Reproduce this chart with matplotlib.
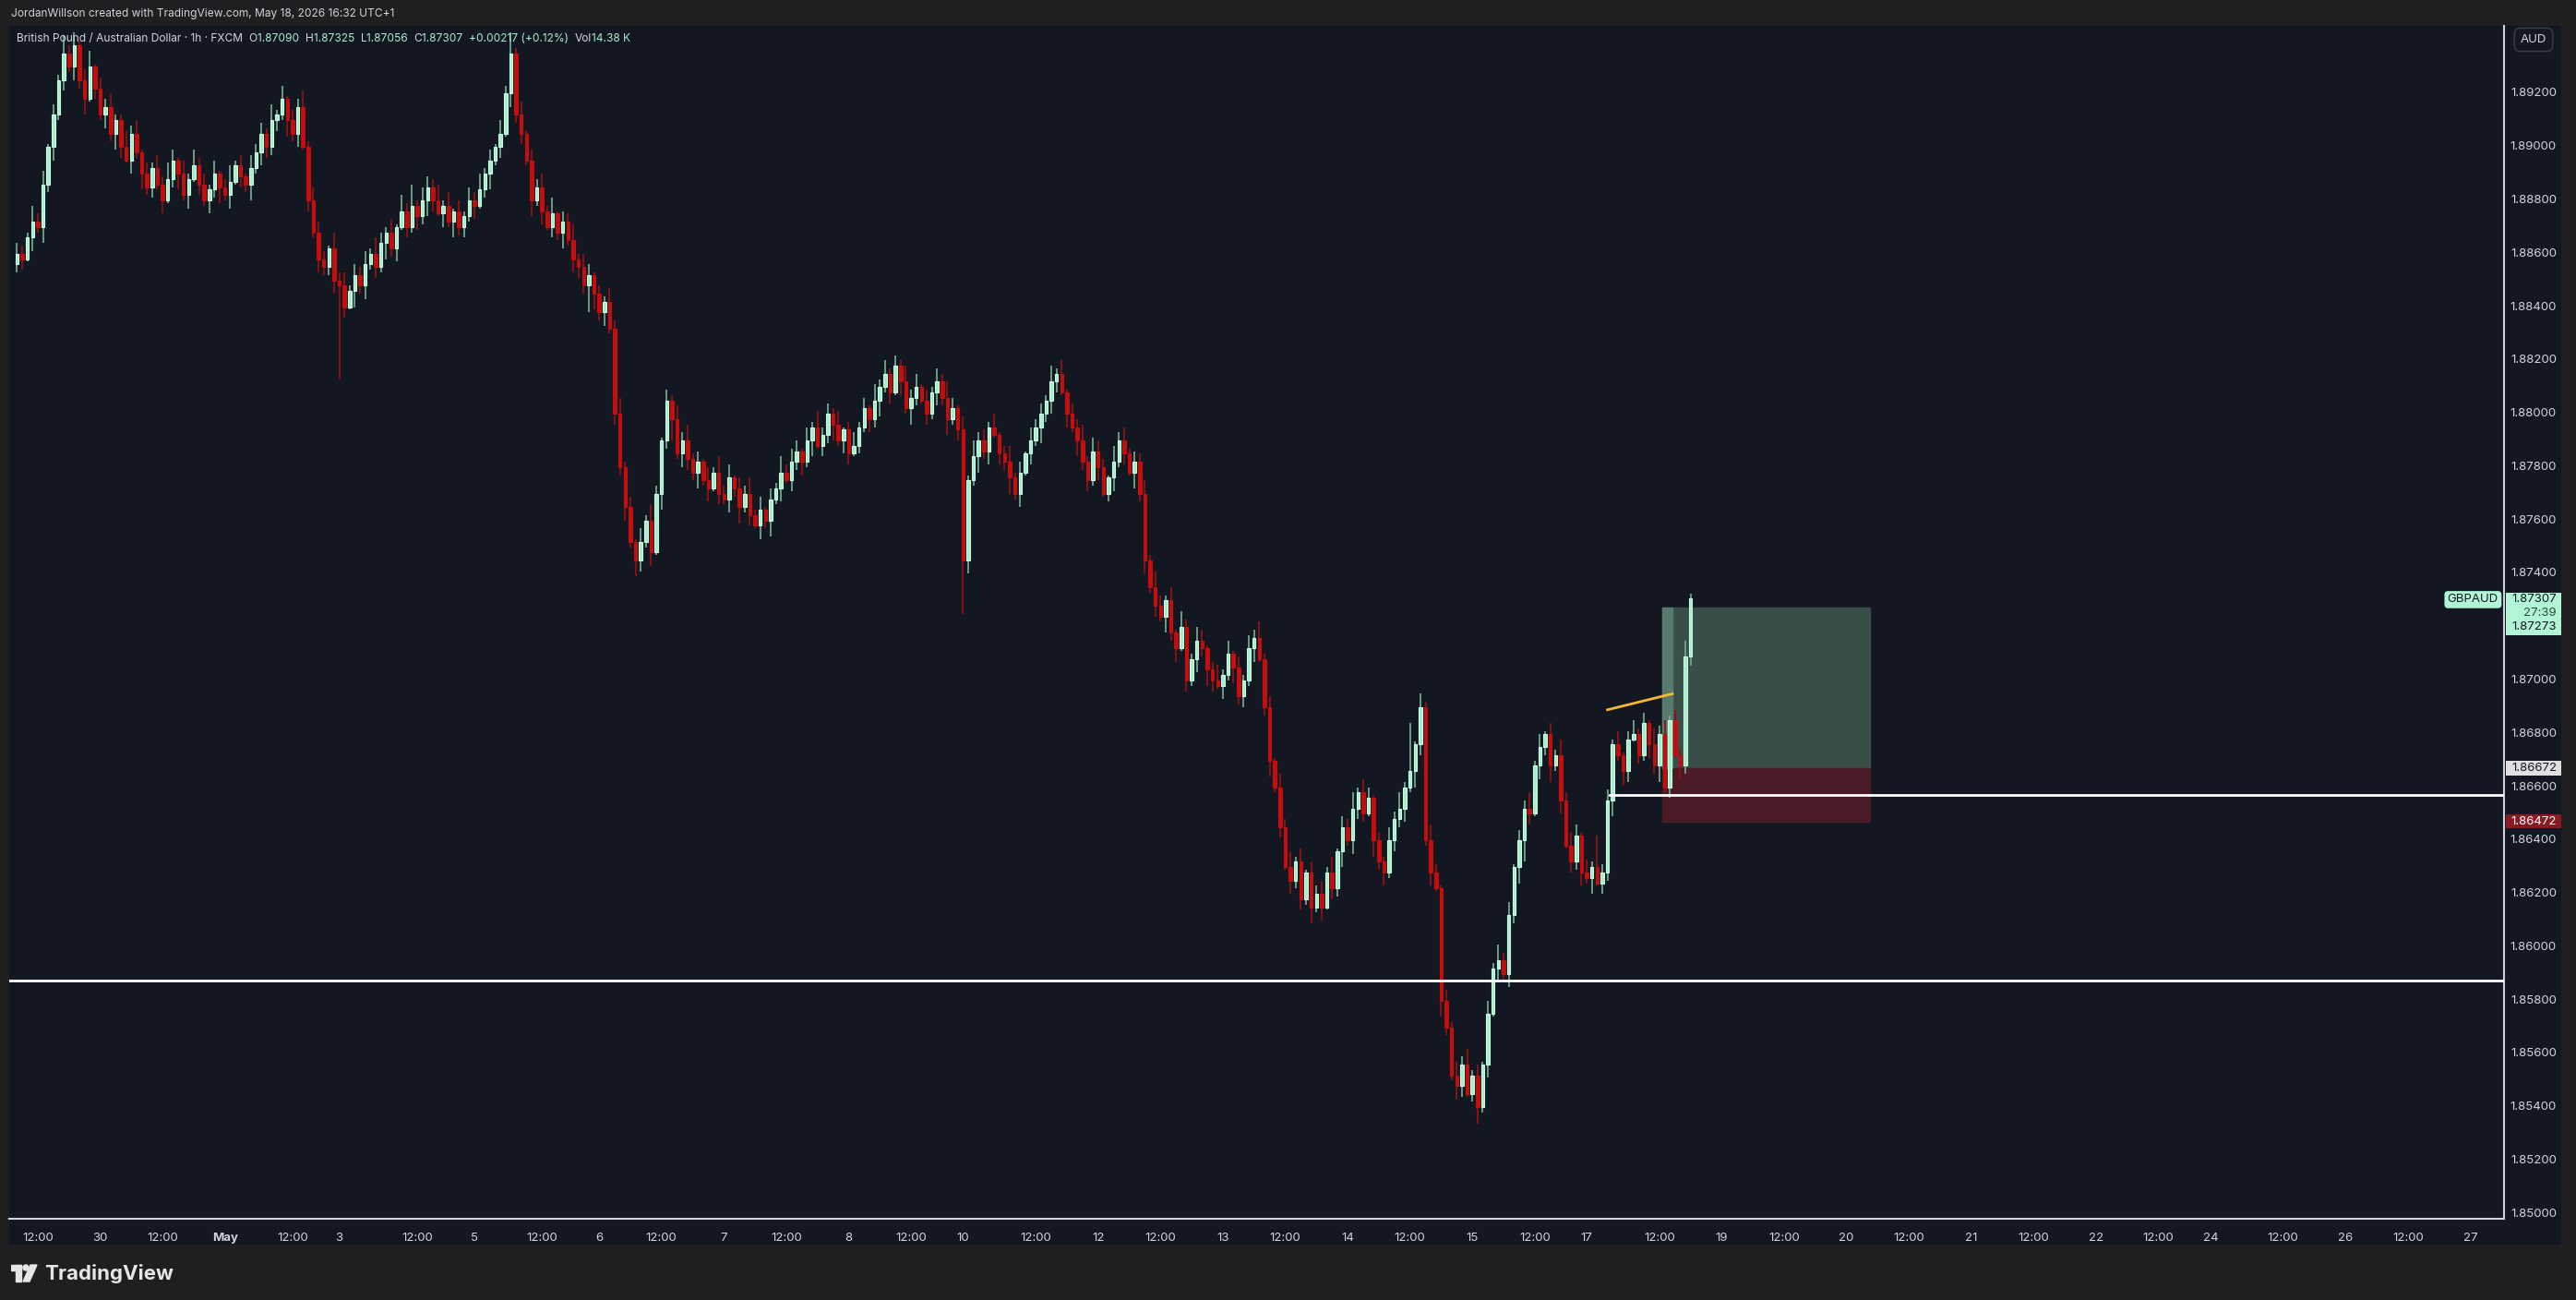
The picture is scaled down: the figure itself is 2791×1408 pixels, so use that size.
import numpy as np
import matplotlib.pyplot as plt
import matplotlib.transforms as mtransforms
from matplotlib.patches import Rectangle, Circle, Polygon

plt.rcParams['font.family'] = ['Inter', 'DejaVu Sans']

# closes in pips above 1.8000 (one per hourly bar)
closes = [860, 858, 866, 872, 870, 886, 900, 912, 925, 935,
          930, 938, 925, 918, 930, 922, 912, 915, 905, 910, 900, 895, 905, 898, 890, 885,
          892, 886, 880, 888, 895, 890, 882, 888, 893, 886, 880, 884, 890, 885, 882, 887, 893, 889, 886,
          892, 898, 905, 900, 910, 912, 918, 910, 905, 915,
          900, 880, 868, 858, 855, 862, 850, 848,
          840, 846, 852, 848, 856, 860, 855, 864, 868, 862, 870, 876, 870, 878, 874, 880,
          885, 880, 875, 878, 872, 876, 870, 874, 880, 878, 884, 890, 895,
          900, 905, 920, 935, 912,
          905, 895, 880, 885, 876, 870, 875, 868, 872, 865, 858,
          855, 848, 852, 845, 838, 842, 832,
          800, 780, 765, 752, 745,
          752, 760, 748, 770, 790, 805, 798, 785,
          790, 783, 778, 782, 775, 772, 778, 770, 768, 776, 772, 765, 770, 762, 758, 764, 760, 768, 772,
          778, 775, 782, 786, 782, 790, 795, 788, 792, 800, 796, 790, 794, 785, 788, 795, 802, 798, 805,
          810, 815, 808, 818, 812, 802, 806, 810, 805, 800, 808, 812, 806, 798, 802, 794, 745,
          775, 784, 790, 786, 795, 792, 785, 782, 776, 770, 778, 785, 790, 795, 800, 805, 812,
          815, 808, 800, 795, 790, 782, 775, 786, 780, 770, 776, 782, 790, 785, 778, 782,
          770, 745, 735, 728, 724, 730, 718, 712, 720, 700, 708, 715, 712,
          704, 700, 698, 702, 710, 705, 694, 700, 712, 716, 708,
          690, 670, 660, 645, 630, 625, 632, 618, 628, 615, 620,
          615, 628, 622, 636, 645, 640, 652, 658, 650, 656, 640, 632, 628, 640, 648, 652, 660, 666, 676,
          690, 640, 628, 622, 580, 570,
          552, 548, 556, 545, 552, 540, 556,
          575, 592, 595, 590, 612, 630, 640, 652, 650, 668,
          675, 680, 668, 672, 655, 638, 632, 642, 628, 626, 630, 624, 628,
          655, 676, 672, 666, 678, 680, 672, 684, 676, 668, 680, 660, 685, 672, 668,
          709.0, 730.7]

upper_wicks = ("4326351427" "3524614352" "2635142536" "4152634251" "3624153426"
               "2514362543" "1635243526" "4251638254" "3625142536" "2415362514"
               "3526143625" "4132536241" "5263142536" "2415263514" "3625142635"
               "4152634251" "3524163524" "2635142536" "4152634251" "3624153426"
               "2514362543" "1635243526" "4251632541" "3625142536" "2415362514"
               "3526143625" "4132536241" "5263142536" "2415263514" "3625142635"
               "4152634251" "3524163524" "262")
lower_wicks = ("3415263524" "2536142536" "4152634251" "3625142536" "2514362543"
               "4263514253" "3524163524" "2635142536" "4152634251" "3624153426"
               "2514362543" "1635243526" "4251638254" "3625142536" "2415362514"
               "3526143625" "4132536241" "5263142536" "2415263514" "3625142635"
               "4152634251" "3524163524" "2635142536" "4152634251" "3624153426"
               "2514362543" "1635243526" "4251632541" "3625142536" "2415362514"
               "3526143625" "4132536241" "534")
extra_low = {62: 35, 182: 20, 110: 10, 290: 8}
extra_high = {95: 8, 268: 18, 304: 12}

tick_pos = [4, 16, 28, 40, 53, 62, 77, 88, 101, 112, 124, 136, 148, 160, 172, 182,
            196, 208, 220, 232, 244, 256, 268, 280, 292, 302, 316, 328, 340, 352,
            364, 376, 388, 400, 412, 422, 436, 448, 460, 472]
tick_labels = ["12:00", "30", "12:00", "May", "12:00", "3", "12:00", "5", "12:00", "6",
               "12:00", "7", "12:00", "8", "12:00", "10", "12:00", "12", "12:00", "13",
               "12:00", "14", "12:00", "15", "12:00", "17", "12:00", "19", "12:00", "20",
               "12:00", "21", "12:00", "22", "12:00", "24", "12:00", "26", "12:00", "27"]
price_ticks = [1.850, 1.852, 1.854, 1.856, 1.858, 1.860, 1.862, 1.864, 1.866, 1.868,
               1.870, 1.872, 1.874, 1.876, 1.878, 1.880, 1.882, 1.884, 1.886, 1.888,
               1.890, 1.892]

support_price = 1.85875
range_low = 1.86570
entry, target, stop = 1.86672, 1.87273, 1.86472
last_price = 1.87307

BG = '#131722'
OUTER = '#1f1f1f'
BULL = '#a8edcb'
BULL_EDGE = '#c9fbe2'
BULL_WICK = '#6fa58c'
BEAR = '#c40d0d'
BEAR_WICK = '#8e1212'
TXT = '#d1d4dc'

c = np.array(closes) / 10000 + 1.8
n = len(c)
o = np.concatenate([[c[0] - 0.0004], c[:-1]])
up = np.array([int(upper_wicks[i]) if i < len(upper_wicks) else 2 for i in range(n)], float)
lo = np.array([int(lower_wicks[i]) if i < len(lower_wicks) else 2 for i in range(n)], float)
for k, v in extra_low.items():
    lo[k] = v
for k, v in extra_high.items():
    up[k] = v
up[-1], lo[-1] = 1.8, 3.4
h = np.maximum(o, c) + up / 10000
l = np.minimum(o, c) - lo / 10000
x = np.arange(n)
bull = c >= o

W, H = 2791, 1408
fig = plt.figure(figsize=(W / 100, H / 100), dpi=100, facecolor=OUTER)
# chart panel background
bgax = fig.add_axes([10 / W, 1 - 1348 / H, 2765 / W, 1320 / H], zorder=0)
bgax.set_facecolor(BG)
bgax.set_xticks([]); bgax.set_yticks([])
for s in bgax.spines.values():
    s.set_visible(False)

AX_W = 2703
ax = fig.add_axes([10 / W, 1 - 1320 / H, AX_W / W, 1292 / H], zorder=1)
ax.patch.set_alpha(0)

ax.vlines(x[bull], l[bull], h[bull], color=BULL_WICK, lw=1.3, zorder=2)
ax.vlines(x[~bull], l[~bull], h[~bull], color=BEAR_WICK, lw=1.3, zorder=2)
ax.bar(x[bull], c[bull] - o[bull], bottom=o[bull], width=0.62, color=BULL,
       edgecolor=BULL_EDGE, lw=0.8, zorder=3)
ax.bar(x[~bull], c[~bull] - o[~bull], bottom=o[~bull], width=0.62, color=BEAR,
       edgecolor=BEAR, lw=0.8, zorder=3)

ax.set_xlim(-1.5, 478.5)
ax.set_ylim(1.84982, 1.89454)

# drawings
ax.axhline(support_price, color='white', lw=2, zorder=4)
ax.plot([306.5, 478.5], [range_low, range_low], color='white', lw=2, zorder=4)
ax.plot([306, 318.5], [1.86890, 1.86950], color='#f5b82e', lw=2, zorder=5)
ax.add_patch(Rectangle((316.5, entry), 40, target - entry, color='#394d49', zorder=1))
ax.add_patch(Rectangle((316.5, stop), 40, entry - stop, color='#4a1b24', zorder=1))
ax.add_patch(Rectangle((316.5, entry), 2, target - entry, color='#587a6c', zorder=1))

for s in ax.spines.values():
    s.set_visible(False)
ax.set_xticks(tick_pos)
ax.set_xticklabels(tick_labels)
ax.tick_params(axis='x', colors=TXT, labelsize=9.5, length=0, pad=11)
ax.set_yticks([])
for tk, lab in zip(ax.get_xticklabels(), tick_labels):
    if lab == 'May':
        tk.set_fontweight('bold')

# axis separators
ax.plot([0, 1], [0, 0], transform=ax.transAxes, color='#cfd2d8', lw=1.5, clip_on=False)
ax.plot([1, 1], [0, 1], transform=ax.transAxes, color='#cfd2d8', lw=1.5, clip_on=False)

# price axis: x in axes fraction, y in data
tr = mtransforms.blended_transform_factory(ax.transAxes, ax.transData)
px = 1 / AX_W
PFS = 9.5
for p in price_ticks:
    ax.text(1 + 57 * px, p, f'{p:.5f}', color=TXT, fontsize=PFS, va='center', ha='right',
            transform=tr, clip_on=False)

def tag(y, text, fc, tc, ht=0.00027):
    ax.add_patch(Rectangle((1 + 2 * px, y - ht), 60 * px, 2 * ht, transform=tr,
                           fc=fc, ec='none', clip_on=False, zorder=6))
    ax.text(1 + 57 * px, y, text, color=tc, fontsize=PFS, ha='right', va='center',
            transform=tr, clip_on=False, zorder=7)

tag(entry, f'{entry:.5f}', '#e0e0e0', '#131722')
tag(stop, f'{stop:.5f}', '#8a1a22', 'white')
ax.add_patch(Rectangle((1 + 2 * px, 1.87168), 60 * px, 0.0016, transform=tr,
                       fc='#b2f5d6', ec='none', clip_on=False, zorder=6))
ax.text(1 + 57 * px, 1.87303, f'{last_price:.5f}', color='#131722', fontsize=PFS,
        ha='right', va='center', transform=tr, clip_on=False, zorder=7)
ax.text(1 + 57 * px, 1.87252, '27:39', color='#2f4a3f', fontsize=PFS,
        ha='right', va='center', transform=tr, clip_on=False, zorder=7)
ax.text(1 + 57 * px, 1.87199, f'{target:.5f}', color='#131722', fontsize=PFS,
        ha='right', va='center', transform=tr, clip_on=False, zorder=7)
ax.text(1 - 6 * px, 1.87303, 'GBPAUD', color='#131722', fontsize=PFS, ha='right',
        va='center', transform=tr, zorder=7,
        bbox=dict(boxstyle='round,pad=0.25,rounding_size=0.3', fc='#b2f5d6', ec='none'))

# AUD box
fig.text(2745 / W, 1 - 43 / H, 'AUD', color=TXT, fontsize=9.5, ha='center', va='center',
         zorder=5, bbox=dict(boxstyle='round,pad=0.5', fc=BG, ec='#3a3e4a'))

# header
fig.text(12 / W, 1 - 15 / H, 'JordanWillson created with TradingView.com, May 18, 2026 16:32 UTC+1',
         color=TXT, fontsize=8.6, va='center', ha='left')
parts = [('British Pound / Australian Dollar · 1h · FXCM  ', TXT), ('O', TXT), ('1.87090  ', BULL),
         ('H', TXT), ('1.87325  ', BULL), ('L', TXT), ('1.87056  ', BULL), ('C', TXT),
         ('1.87307  ', BULL), ('+0.00217 (+0.12%)  ', BULL), ('Vol', TXT), ('14.38 K', BULL)]
fig.canvas.draw()
xpos = 18 / W
r = fig.canvas.get_renderer()
for txt, col in parts:
    t = fig.text(xpos, 1 - 42 / H, txt, color=col, fontsize=8.6, va='center', ha='left', zorder=5)
    bb = t.get_window_extent(renderer=r)
    xpos += bb.width / W

# footer logo: small mark drawn as shapes, then wordmark
logo = fig.add_axes([12 / W, 1 - 1390 / H, 30 / W, 22 / H])
logo.set_xlim(0, 30); logo.set_ylim(0, 22); logo.axis('off')
logo.add_patch(Rectangle((0, 14), 11, 6, color='#e6e6e6'))
logo.add_patch(Rectangle((5, 2), 6, 18, color='#e6e6e6'))
logo.add_patch(Circle((16, 17), 3, color='#e6e6e6'))
logo.add_patch(Polygon([(21, 20), (28, 20), (20, 2), (13, 2)], color='#e6e6e6'))
fig.text(48 / W, 1 - 1379 / H, 'TradingView', color='#e6e6e6', fontsize=16,
         fontweight='bold', va='center', ha='left')

fig.savefig('out.png', dpi=100, facecolor=OUTER)
